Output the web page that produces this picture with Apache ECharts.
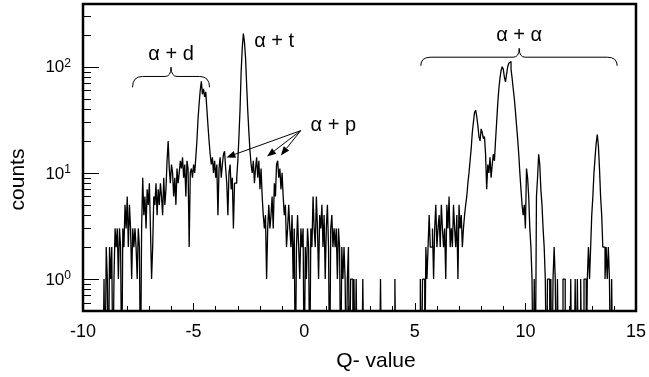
<!DOCTYPE html>
<html>
<head>
<meta charset="utf-8">
<script src="https://cdn.jsdelivr.net/npm/echarts@6/dist/echarts.min.js"></script>
<style>
  html, body { margin: 0; padding: 0; background: #fff; }
  #chart { width: 649px; height: 377px; }
</style>
</head>
<body>
<div id="chart"></div>
<script>
// histogram bins, width 0.05 in Q
const binWidth = 0.05;

// alpha+d / alpha+t / alpha+p part, first bin starts at Q = -9.10
const lowStart = -9.10;
const lowCounts = [
  0, 1, 0, 2, 1, 0, 2, 1, 2, 0,
  1, 3, 2, 3, 1, 3, 2, 0, 3, 2,
  5, 3, 6, 2, 5, 3, 1, 3, 2, 3,
  2, 1, 3, 2, 0, 3, 9, 4, 6, 3,
  7, 5, 8, 3, 1, 2, 6, 5, 8, 4,
  7, 5, 8, 6, 4, 9, 5, 7, 13, 20,
  11, 8, 12, 10, 6, 9, 5, 11, 8, 10,
  13, 11, 14, 9, 12, 6, 13, 11, 2, 10,
  11, 9, 12, 10, 14, 20, 32, 45, 60, 73,
  55, 62, 52, 58, 40, 28, 20, 15, 12, 14,
  10, 13, 9, 12, 4, 11, 14, 9, 12, 15,
  16, 11, 8, 4, 10, 12, 7, 9, 3, 8,
  8, 9, 13, 22, 40, 90, 150, 205, 170, 120,
  66, 38, 24, 16, 12, 10, 13, 8, 11, 14,
  9, 13, 7, 11, 6, 4, 3, 4, 1, 3,
  5, 3, 4, 6, 3, 8, 6, 12, 13, 9,
  11, 7, 10, 6, 4, 5, 2, 3, 5, 3,
  2, 4, 1, 3, 0, 2, 4, 2, 1, 3,
  2, 3, 0, 2, 1, 3, 2, 0, 3, 2,
  6, 3, 2, 6, 3, 1, 4, 3, 5, 2,
  4, 1, 3, 5, 2, 0, 3, 4, 2, 3,
  2, 3, 1, 3, 2, 0, 2, 1, 2, 1,
  0, 1, 2, 0, 1, 1, 0, 1, 0, 1,
  0, 0, 0, 0, 0, 1
];

// few isolated counts in the gap, first bin at Q = 3.40
const midStart = 3.40;
const midCounts = [0, 1, 0, 0, 0, 0, 0, 0, 0, 0, 0, 0, 0, 0, 1];

// alpha+alpha part, first bin at Q = 5.25
const highStart = 5.25;
const highCounts = [
  1, 0, 1, 1, 0, 2, 1, 2, 4, 2,
  2, 3, 1, 3, 5, 2, 3, 4, 2, 5,
  3, 2, 3, 1, 5, 3, 6, 2, 3, 2,
  5, 3, 2, 4, 1, 5, 3, 4, 2, 3,
  4, 5, 6, 8, 10, 13, 17, 24, 30, 37,
  39, 34, 28, 22, 20, 26, 24, 21, 22, 15,
  7, 12, 10, 14, 9, 12, 15, 13, 20, 30,
  45, 62, 78, 92, 100, 95, 80, 72, 85, 100,
  108, 112, 95, 78, 62, 50, 38, 28, 21, 15,
  10, 7, 5, 4, 5, 3, 11, 9, 6, 3,
  2, 1, 0, 1, 0, 6, 9, 15, 12, 7,
  5, 3, 2, 1, 0, 1, 1, 0, 1, 0,
  1, 2, 1, 0, 1, 0, 0, 0, 0, 1,
  1, 0, 0, 0, 0, 0, 1, 0, 0, 0,
  1, 0, 1, 0, 0, 1, 0, 0, 1, 1,
  0, 1, 2, 1, 2, 4, 6, 10, 14, 19,
  23, 18, 11, 6, 4, 2, 2, 1, 2, 1,
  2, 1, 0, 1, 0, 0
];

const xTicks = [-10, -5, 0, 5, 10, 15];
const yMajorTicks = [1, 10, 100];
const yMinorTicks = [0.5, 0.6, 0.7, 0.8, 0.9, 2, 3, 4, 5, 6, 7, 8, 9, 20, 30, 40, 50, 60, 70, 80, 90, 200, 300];

const FONT = '"Liberation Sans", Arial, Helvetica, sans-serif';
const FLOOR = 0.1; // empty bins, drawn under the axis minimum
const X_MIN = -10;

function histPoints(start, counts) {
  const pts = [[start, FLOOR]];
  counts.forEach((c, i) => pts.push([start + i * binWidth, c > 0 ? c : FLOOR]));
  pts.push([start + counts.length * binWidth, FLOOR]);
  return pts;
}

const histData = histPoints(lowStart, lowCounts)
  .concat(histPoints(midStart, midCounts))
  .concat(histPoints(highStart, highCounts));

// annotations in data units
const braces = [
  { label: 'α + d', from: -7.76, to: -4.28, mid: -6.02, end: 64, bar: 81, tip: 99 },
  { label: 'α + α', from: 5.27, to: 14.15, mid: 9.72, end: 102, bar: 123, tip: 149 }
];
const texts = [
  { label: 'α + t', q: -2.26, c: 173 },
  { label: 'α + p', q: 0.29, c: 27.8 }
];
const arrowFrom = [-0.16, 25];
const arrowTo = [[-3.515, 14], [-1.68, 14.3], [-1.055, 14.6]];

const chart = echarts.init(document.getElementById('chart'));

chart.setOption({
  animation: false,
  grid: {
    left: 80.5, right: 9.5, top: 4, bottom: 63.5,
    show: true, borderColor: '#000', borderWidth: 2.5
  },
  xAxis: {
    type: 'value',
    min: X_MIN, max: 15, interval: 5,
    name: 'Q- value',
    nameLocation: 'middle',
    nameGap: 40,
    nameTextStyle: { fontFamily: FONT, fontSize: 21, color: '#000', padding: [0, 0, 0, 33] },
    axisLine: { show: false, onZero: false },
    axisTick: { show: true, inside: true, length: 8, lineStyle: { color: '#000', width: 1 } },
    minorTick: { show: true, splitNumber: 5, length: 5, lineStyle: { color: '#000', width: 1 } },
    splitLine: { show: false },
    axisLabel: {
      margin: 12, fontFamily: FONT, fontSize: 18, color: '#000',
      formatter: v => (xTicks.indexOf(v) >= 0 ? String(v) : '')
    }
  },
  yAxis: {
    type: 'log',
    min: 0.5, max: 390,
    name: 'counts',
    nameLocation: 'middle',
    nameGap: 54,
    nameTextStyle: { fontFamily: FONT, fontSize: 21, color: '#000', padding: [0, 44, 0, 0] },
    axisLine: { show: false, onZero: false },
    axisTick: { show: false },
    splitLine: { show: false },
    axisLabel: {
      margin: 12, color: '#000',
      formatter: v => {
        const e = Math.log10(v);
        if (Math.abs(e - Math.round(e)) > 1e-6) return '';
        return '{b|10}{s|' + Math.round(e) + '}';
      },
      rich: {
        b: { fontFamily: FONT, fontSize: 17, color: '#000', verticalAlign: 'bottom' },
        s: { fontFamily: FONT, fontSize: 12, color: '#000', verticalAlign: 'bottom', padding: [0, 0, 7, 0] }
      }
    }
  },
  series: [
    {
      type: 'line',
      data: histData,
      step: 'end',
      showSymbol: false,
      lineStyle: { color: '#000', width: 1.3 }
    },
    {
      // braces with their labels
      type: 'custom',
      clip: false,
      data: braces.map(b => [b.mid, b.tip]),
      encode: { x: 0, y: 1 },
      renderItem: (params, api) => {
        const b = braces[params.dataIndex];
        const l = api.coord([b.from, b.end]);
        const r = api.coord([b.to, b.end]);
        const yb = api.coord([b.mid, b.bar])[1];
        const t = api.coord([b.mid, b.tip]);
        const er = 10, cr = 6;
        const st = { stroke: '#000', lineWidth: 1, fill: null };
        return {
          type: 'group',
          children: [
            { type: 'bezierCurve', shape: { x1: l[0], y1: l[1], cpx1: l[0], cpy1: yb, x2: l[0] + er, y2: yb }, style: st },
            { type: 'line', shape: { x1: l[0] + er, y1: yb, x2: t[0] - cr, y2: yb }, style: st },
            { type: 'bezierCurve', shape: { x1: t[0] - cr, y1: yb, cpx1: t[0], cpy1: yb, x2: t[0], y2: t[1] }, style: st },
            { type: 'bezierCurve', shape: { x1: t[0], y1: t[1], cpx1: t[0], cpy1: yb, x2: t[0] + cr, y2: yb }, style: st },
            { type: 'line', shape: { x1: t[0] + cr, y1: yb, x2: r[0] - er, y2: yb }, style: st },
            { type: 'bezierCurve', shape: { x1: r[0] - er, y1: yb, cpx1: r[0], cpy1: yb, x2: r[0], y2: r[1] }, style: st },
            {
              type: 'text', x: t[0], y: t[1] - 13,
              style: { text: b.label, fontFamily: FONT, fontSize: 20, fill: '#000', align: 'center', verticalAlign: 'middle' }
            }
          ]
        };
      },
      z: 4
    },
    {
      // peak labels
      type: 'custom',
      clip: false,
      data: texts.map(t => [t.q, t.c]),
      encode: { x: 0, y: 1 },
      renderItem: (params, api) => {
        const t = texts[params.dataIndex];
        const p = api.coord([t.q, t.c]);
        return {
          type: 'text', x: p[0], y: p[1],
          style: { text: t.label, fontFamily: FONT, fontSize: 20, fill: '#000', align: 'left', verticalAlign: 'middle' }
        };
      },
      z: 4
    },
    {
      // arrows to the alpha+p structures
      type: 'custom',
      clip: false,
      data: arrowTo,
      encode: { x: 0, y: 1 },
      renderItem: (params, api) => {
        const a = api.coord(arrowFrom);
        const b = api.coord([api.value(0), api.value(1)]);
        const ang = Math.atan2(b[1] - a[1], b[0] - a[0]);
        const hl = 9, hw = 3.5;
        const bx = b[0] - hl * Math.cos(ang), by = b[1] - hl * Math.sin(ang);
        const nx = -Math.sin(ang) * hw, ny = Math.cos(ang) * hw;
        return {
          type: 'group',
          children: [
            { type: 'line', shape: { x1: a[0], y1: a[1], x2: bx, y2: by }, style: { stroke: '#000', lineWidth: 1 } },
            { type: 'polygon', shape: { points: [[b[0], b[1]], [bx + nx, by + ny], [bx - nx, by - ny]] }, style: { fill: '#000' } }
          ]
        };
      },
      z: 4
    }
  ]
});

// inward ticks of the log axis, placed through the chart's own scales
function tickLines(values, len) {
  return values.map(v => {
    const p = chart.convertToPixel({ xAxisIndex: 0, yAxisIndex: 0 }, [X_MIN, v]);
    const y = Math.round(p[1]) + 0.5;
    return {
      type: 'line',
      z: 100,
      silent: true,
      shape: { x1: p[0], y1: y, x2: p[0] + len, y2: y },
      style: { stroke: '#000', lineWidth: 1 }
    };
  });
}

chart.setOption({
  graphic: { elements: tickLines(yMajorTicks, 16).concat(tickLines(yMinorTicks, 8)) }
});
</script>
</body>
</html>
